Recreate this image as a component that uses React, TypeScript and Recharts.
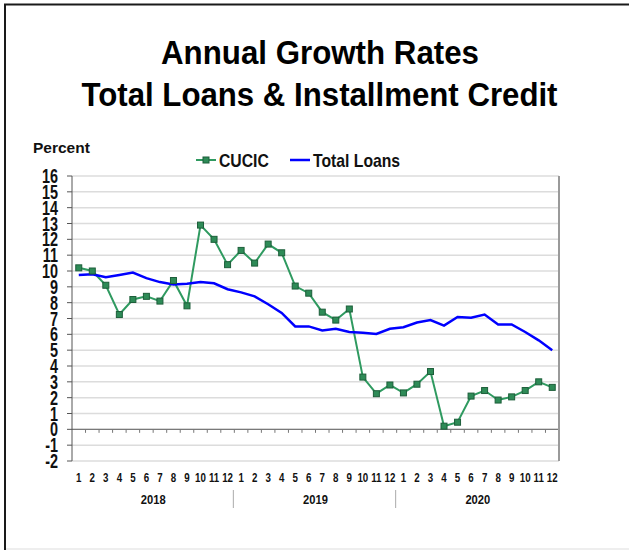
import React from 'react';
import { LineChart, Line, XAxis, YAxis, CartesianGrid, ReferenceLine, Legend } from 'recharts';

const months = ['1','2','3','4','5','6','7','8','9','10','11','12','1','2','3','4','5','6','7','8','9','10','11','12','1','2','3','4','5','6','7','8','9','10','11','12'];
const years = ['2018', '2019', '2020'];
const cucic = [10.2, 10.0, 9.1, 7.25, 8.2, 8.4, 8.1, 9.4, 7.8, 12.9, 12.0, 10.4, 11.3, 10.5, 11.7, 11.15, 9.05, 8.6, 7.4, 6.9, 7.6, 3.3, 2.25, 2.8, 2.3, 2.85, 3.65, 0.2, 0.45, 2.1, 2.45, 1.85, 2.05, 2.45, 3.0, 2.65];
const totalLoans = [9.75, 9.8, 9.6, 9.75, 9.9, 9.55, 9.3, 9.15, 9.2, 9.3, 9.22, 8.85, 8.65, 8.4, 7.9, 7.35, 6.5, 6.5, 6.25, 6.35, 6.15, 6.1, 6.02, 6.35, 6.45, 6.75, 6.9, 6.55, 7.1, 7.05, 7.25, 6.62, 6.62, 6.15, 5.62, 5.0];
const yTicks = [-2,-1,0,1,2,3,4,5,6,7,8,9,10,11,12,13,14,15,16];
const Y_MIN = -2;
const Y_MAX = 16;

const W = 629;
const H = 550;
const LEFT_W = 72;
const RIGHT_W = 70;
const TOP = 176;
const X_H = 89;
const PLOT_W = W - LEFT_W - RIGHT_W;
const PLOT_H = H - TOP - X_H;
const BAND = PLOT_W / months.length;
const UNIT = PLOT_H / (Y_MAX - Y_MIN);

const data = months.map((m, i) => ({ m, cucic: cucic[i], total: totalLoans[i] }));

const SANS = "'Liberation Sans', Arial, sans-serif";
const GREEN = '#2f9a60';
const BLUE = '#0000ff';

function NarrowText(props: any) {
  const { x, y, anchor, size, sx, children } = props;
  return (
    <g transform={`translate(${x},${y}) scale(${sx},1)`}>
      <text x={0} y={0} textAnchor={anchor} fontFamily={SANS} fontWeight="bold" fontSize={size} fill="#111">
        {children}
      </text>
    </g>
  );
}

function MonthTick(props: any) {
  const { x, y, index } = props;
  const y0 = y - (0 - Y_MIN) * UNIT;
  const bx = x + BAND / 2;
  const els: any[] = [];
  if (index < months.length - 1) {
    els.push(<line key="t" x1={bx} x2={bx} y1={y0} y2={y0 + 3.5} stroke="#777" strokeWidth={1} />);
  }
  els.push(
    <NarrowText key="m" x={x} y={y + 20.5} anchor="middle" size={12.5} sx={0.78}>
      {months[index]}
    </NarrowText>
  );
  if (index % 12 === 5) {
    els.push(
      <NarrowText key="y" x={bx} y={y + 43} anchor="middle" size={13} sx={0.86}>
        {years[Math.floor(index / 12)]}
      </NarrowText>
    );
  }
  if (index % 12 === 11 && index < months.length - 1) {
    els.push(<line key="s" x1={bx - 1} x2={bx - 1} y1={y + 29} y2={y + 47} stroke="#aaa" strokeWidth={1} />);
  }
  return <g>{els}</g>;
}

function LeftTick(props: any) {
  const { x, y, payload } = props;
  return (
    <g>
      <line x1={x - 5} x2={x} y1={y} y2={y} stroke="#555" strokeWidth={1} />
      <NarrowText x={x - 14} y={y + 7} anchor="end" size={19.5} sx={0.74}>{payload.value}</NarrowText>
    </g>
  );
}

function RightTick(props: any) {
  const { x, y, payload } = props;
  return (
    <g>
      <line x1={x - 6} x2={x + 4} y1={y} y2={y} stroke="#999" strokeWidth={1.2} />
      <NarrowText x={x + 13} y={y + 7} anchor="start" size={19.5} sx={0.74}>{payload.value}</NarrowText>
    </g>
  );
}

function SquareDot(props: any) {
  const { cx, cy, index } = props;
  if (cx == null || cy == null) return <g key={index} />;
  return <rect key={index} x={cx - 3} y={cy - 3} width={6} height={6} fill="#2e8b57" stroke="#1d5e3a" strokeWidth={1} />;
}

function LegendContent(props: any) {
  const { payload } = props;
  const positions = [196, 290];
  return (
    <svg width={W} height={TOP} style={{ position: 'absolute', left: 0, top: 0 }}>
      {(payload || []).map((p: any, i: number) => {
        const lx = positions[i] ?? 196 + i * 94;
        return (
          <g key={p.value}>
            <line x1={lx} x2={lx + 20} y1={160} y2={160} stroke={p.color} strokeWidth={i === 0 ? 2 : 2.5} />
            {i === 0 && <rect x={lx + 7} y={157} width={6} height={6} fill="#2e8b57" stroke="#1d5e3a" strokeWidth={1} />}
            <NarrowText x={lx + 23} y={166.5} anchor="start" size={17.5} sx={0.9}>{p.value}</NarrowText>
          </g>
        );
      })}
    </svg>
  );
}

export default function App() {
  return (
    <div style={{ position: 'absolute', left: 0, top: 0, width: W, height: H, background: '#fff' }}>
      <LineChart width={W} height={H} data={data} margin={{ top: TOP, right: 0, bottom: 0, left: 0 }}>
        <CartesianGrid horizontal vertical={false} stroke="#dcdcdc" strokeWidth={1.5} yAxisId="left" />
        <XAxis dataKey="m" height={X_H} interval={0} padding={{ left: BAND / 2, right: BAND / 2 }} tickSize={0} tickMargin={0} axisLine={false} tickLine={false} tick={<MonthTick />} />
        <YAxis yAxisId="left" orientation="left" width={LEFT_W} domain={[Y_MIN, Y_MAX]} ticks={yTicks} interval={0} tickSize={0} tickMargin={0} tickLine={false} axisLine={{ stroke: '#555', strokeWidth: 1 }} tick={<LeftTick />} />
        <YAxis yAxisId="right" orientation="right" width={RIGHT_W} domain={[Y_MIN, Y_MAX]} ticks={yTicks} interval={0} tickSize={0} tickMargin={0} tickLine={false} axisLine={{ stroke: '#9a9a9a', strokeWidth: 2 }} tick={<RightTick />} />
        <ReferenceLine yAxisId="left" y={0} stroke="#666" strokeWidth={1} />
        <Legend layout="horizontal" verticalAlign="middle" align="center" wrapperStyle={{ position: 'absolute', left: 0, top: 0, width: W, height: TOP }} content={<LegendContent />} />
        <Line yAxisId="left" type="linear" dataKey="cucic" name="CUCIC" stroke={GREEN} strokeWidth={2} dot={<SquareDot />} activeDot={false} isAnimationActive={false} />
        <Line yAxisId="left" type="linear" dataKey="total" name="Total Loans" stroke={BLUE} strokeWidth={2.5} dot={false} activeDot={false} isAnimationActive={false} />
      </LineChart>
      <svg width={W} height={H} style={{ position: 'absolute', left: 0, top: 0, pointerEvents: 'none' }}>
        <line x1={4} x2={W} y1={4.5} y2={4.5} stroke="#1a1a1a" strokeWidth={2} />
        <line x1={5} x2={5} y1={4} y2={H} stroke="#1a1a1a" strokeWidth={2} />
        <line x1={6} x2={W} y1={549} y2={549} stroke="#dddddd" strokeWidth={1} />
        <text x={320} y={63.5} textAnchor="middle" fontFamily={SANS} fontWeight="bold" fontSize={33} fill="#000" textLength={318} lengthAdjust="spacingAndGlyphs">Annual Growth Rates</text>
        <text x={319.5} y={106} textAnchor="middle" fontFamily={SANS} fontWeight="bold" fontSize={33} fill="#000" textLength={476} lengthAdjust="spacingAndGlyphs">Total Loans &amp; Installment Credit</text>
        <text x={33} y={153} fontFamily={SANS} fontWeight="bold" fontSize={15.5} fill="#111">Percent</text>
      </svg>
    </div>
  );
}
